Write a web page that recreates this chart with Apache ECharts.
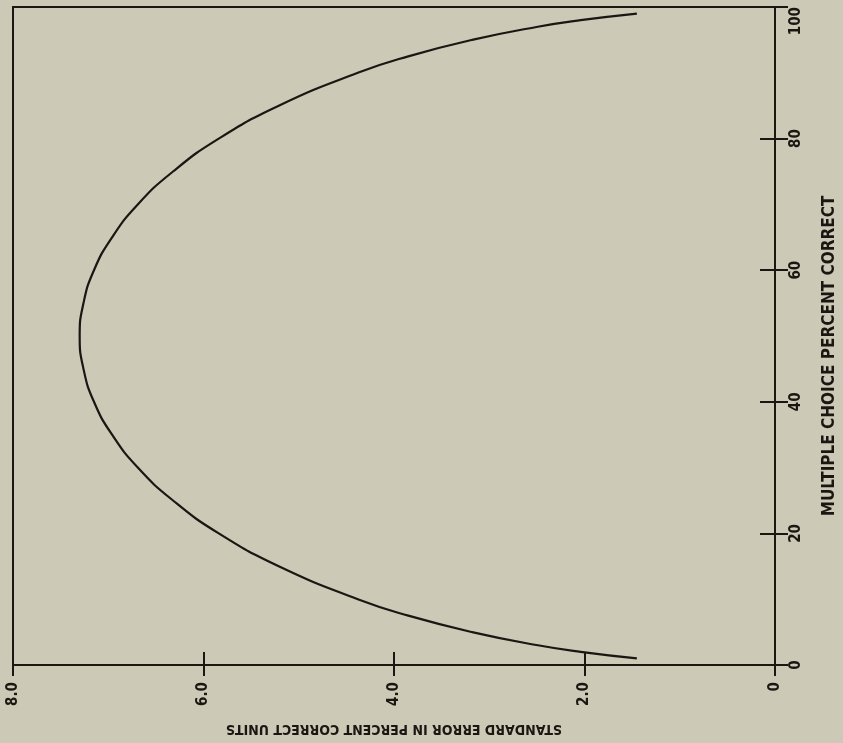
<!DOCTYPE html>
<html>
<head>
<meta charset="utf-8">
<script src="https://cdn.jsdelivr.net/npm/echarts@6/dist/echarts.min.js"></script>
<style>
  html, body { margin: 0; padding: 0; background: #cdc9b7; }
  #chart { width: 843px; height: 743px; }
</style>
</head>
<body>
<div id="chart"></div>
<script>
// Values
var percentCorrect = [1, 2, 3, 5, 7.5, 10, 15, 20, 25, 30, 35, 40, 45, 50, 55, 60, 65, 70, 75, 80, 85, 90, 92.5, 95, 97, 98, 99];
var standardError  = [1.45, 2.04, 2.49, 3.18, 3.85, 4.38, 5.21, 5.84, 6.32, 6.69, 6.96, 7.15, 7.26, 7.30, 7.26, 7.15, 6.96, 6.69, 6.32, 5.84, 5.21, 4.38, 3.85, 3.18, 2.49, 2.04, 1.45];
var errorTicks = [0, 2, 4, 6, 8];
var percentTicks = [0, 20, 40, 60, 80, 100];
var xTitle = 'STANDARD ERROR IN PERCENT CORRECT UNITS';
var yTitle = 'MULTIPLE CHOICE PERCENT CORRECT';

var FONT = "'DejaVu Sans Condensed', 'Liberation Sans Narrow', sans-serif";
var INK = '#1c1612';

var chart = echarts.init(document.getElementById('chart'), null, { renderer: 'canvas' });

var seriesData = percentCorrect.map(function (p, i) { return [standardError[i], p]; });

var option = {
  backgroundColor: '#cdc9b7',
  animation: false,
  grid: {
    left: 13, right: 68, top: 7, bottom: 78,
    outerBoundsMode: 'none', containLabel: false,
    show: true, borderColor: INK, borderWidth: 2, backgroundColor: 'transparent'
  },
  xAxis: [{
    type: 'value', position: 'bottom', inverse: true,
    min: 0, max: 8, interval: 2,
    axisLine: { show: true, lineStyle: { color: INK, width: 2 } },
    axisTick: { show: true, inside: true, length: 13, lineStyle: { color: INK, width: 2 } },
    splitLine: { show: false },
    axisLabel: {
      rotate: 90, margin: 17, color: INK, fontFamily: FONT, fontWeight: 'bold', fontSize: 15,
      formatter: function (v) { return v === 0 ? '0' : v.toFixed(1); }
    },
    name: xTitle, nameLocation: 'middle', nameGap: 57, nameRotate: 180,
    nameTextStyle: { color: INK, fontFamily: FONT, fontWeight: 'bold', fontSize: 14 }
  }, {
    type: 'value', position: 'top', inverse: true,
    min: 0, max: 8, interval: 2,
    axisLine: { show: true, lineStyle: { color: INK, width: 2 } },
    axisTick: { show: true, inside: true, length: 11, lineStyle: { color: INK, width: 2 } },
    axisLabel: { show: false }, splitLine: { show: false }
  }],
  yAxis: [{
    type: 'value', position: 'right',
    min: 0, max: 100, interval: 20,
    axisLine: { show: true, lineStyle: { color: INK, width: 2 } },
    axisTick: { show: true, inside: true, length: 15, lineStyle: { color: INK, width: 2 } },
    splitLine: { show: false },
    axisLabel: {
      rotate: 90, margin: 14, color: INK, fontFamily: FONT, fontWeight: 'bold', fontSize: 15,
      alignMaxLabel: 'right'
    }
  }, {
    type: 'value', position: 'left',
    min: 0, max: 100, interval: 20,
    axisLine: { show: true, lineStyle: { color: INK, width: 2 } },
    axisTick: { show: true, inside: true, length: 13, lineStyle: { color: INK, width: 2 } },
    axisLabel: { show: false }, splitLine: { show: false }
  }],
  graphic: [{
    type: 'text', x: 830, y: 356, rotation: Math.PI / 2,
    style: {
      text: yTitle, fill: INK, font: 'bold 17px ' + FONT,
      align: 'center', verticalAlign: 'middle'
    }
  }],
  series: [{
    type: 'line', xAxisIndex: 0, yAxisIndex: 0,
    data: seriesData, smooth: true, showSymbol: false,
    lineStyle: { color: INK, width: 2.2 }
  }]
};
chart.setOption(option);
</script>
</body>
</html>
